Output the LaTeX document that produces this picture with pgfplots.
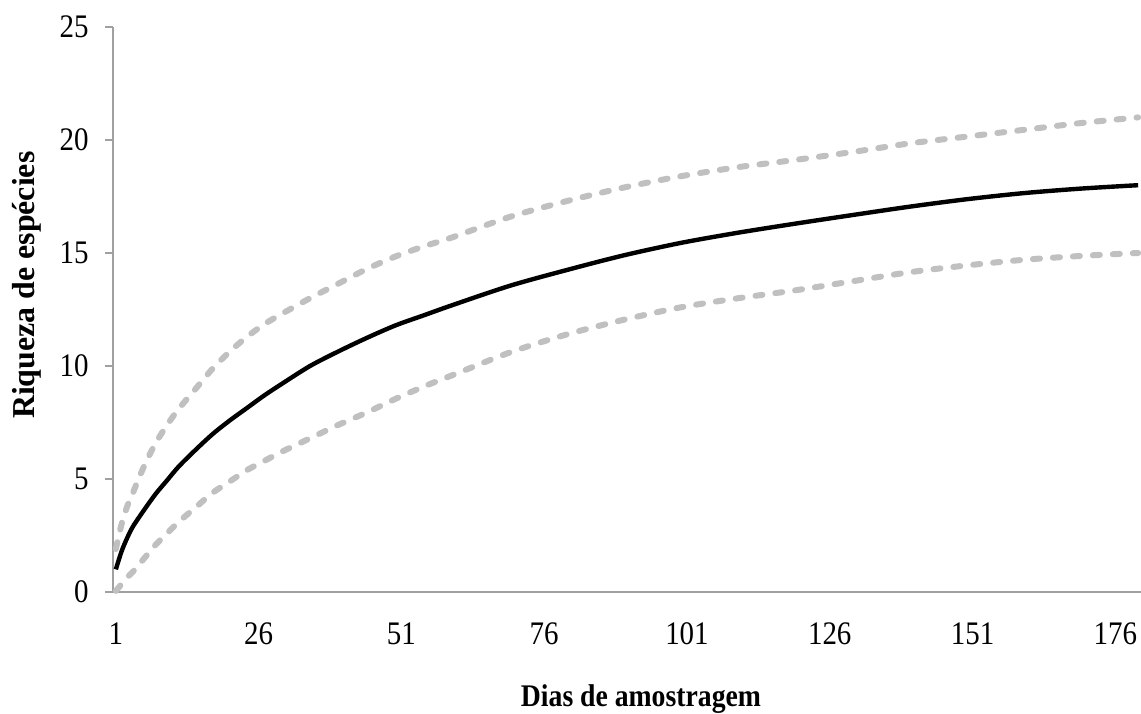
\documentclass[border=0pt]{standalone}
\usepackage{pgfplots}
\pgfplotsset{compat=1.18}
\usepackage{pgfplotstable}
\usetikzlibrary{calc}
\usepackage{fontspec}
\setmainfont{Liberation Serif}
\newfontfamily\narrowfont{Liberation Serif}[FakeStretch=0.88]

\definecolor{axisgray}{RGB}{160,160,160}
\definecolor{cigray}{RGB}{192,192,192}

% dias, riqueza media, limite inferior, limite superior
\pgfplotstableread{
dia media inf sup
1   1.00  0.05  1.90
2   1.80  0.35  3.00
3   2.40  0.65  3.80
4   2.90  0.90  4.40
6   3.65  1.50  5.60
8   4.35  2.10  6.60
10  4.95  2.60  7.40
12  5.55  3.10  8.10
15  6.30  3.75  9.00
18  7.00  4.40  9.90
21  7.60  4.90  10.65
24  8.15  5.40  11.30
27  8.70  5.80  11.85
30  9.20  6.20  12.30
35  10.00 6.80  13.00
40  10.65 7.40  13.65
45  11.25 7.95  14.30
50  11.80 8.55  14.85
55  12.25 9.10  15.30
60  12.70 9.60  15.70
70  13.55 10.60 16.60
80  14.25 11.40 17.30
90  14.90 12.05 17.90
100 15.45 12.60 18.40
110 15.90 13.00 18.80
120 16.30 13.35 19.12
130 16.68 13.75 19.47
140 17.05 14.15 19.85
150 17.38 14.45 20.15
160 17.65 14.70 20.45
170 17.85 14.87 20.75
180 18.00 15.00 21.00
}\riqueza

\begin{document}
\begin{tikzpicture}
\begin{axis}[
  scale only axis,
  width=514bp, height=282.5bp,
  xmin=0.5, xmax=180.5, ymin=0, ymax=25,
  xtick={1,26,51,76,101,126,151,176},
  ytick={0,5,10,15,20,25},
  axis x line=bottom, axis y line=left,
  axis line style={axisgray, line width=1bp, -},
  tick align=outside,
  major x tick style={draw=none},
  major y tick style={axisgray, line width=1bp},
  major tick length=4bp,
  /pgf/number format/assume math mode=true,
  tick label style={font=\narrowfont\fontsize{16.5}{20}\selectfont, black},
  xticklabel style={inner sep=0pt, anchor=north, yshift=-11bp},
  yticklabel style={inner sep=0pt, anchor=east, xshift=-8bp},
  xlabel={Dias de amostragem},
  ylabel={Riqueza de espécies},
  xlabel style={font=\narrowfont\fontsize{15.8}{19}\selectfont\bfseries, inner sep=0pt,
    at={(axis description cs:0.5136,-0.2035)}, anchor=base},
  ylabel style={font=\fontsize{16}{19}\selectfont\bfseries, inner sep=0pt,
    at={(axis description cs:-0.0759,0.543)}, anchor=base},
  clip=false,
]
\addplot[cigray, line width=3bp, line cap=round, dash pattern=on 3.5bp off 6.5bp, smooth]
  table[x=dia, y=sup] {\riqueza};
\addplot[cigray, line width=3bp, line cap=round, dash pattern=on 3.5bp off 6.5bp, smooth]
  table[x=dia, y=inf] {\riqueza};
\addplot[black, line width=2.2bp, smooth] table[x=dia, y=media] {\riqueza};
\end{axis}
\pgfresetboundingbox
\path ($(current axis.south west)+(-56.5bp,-61bp)$) rectangle ($(current axis.north east)+(0,13.5bp)$);
\end{tikzpicture}
\end{document}
